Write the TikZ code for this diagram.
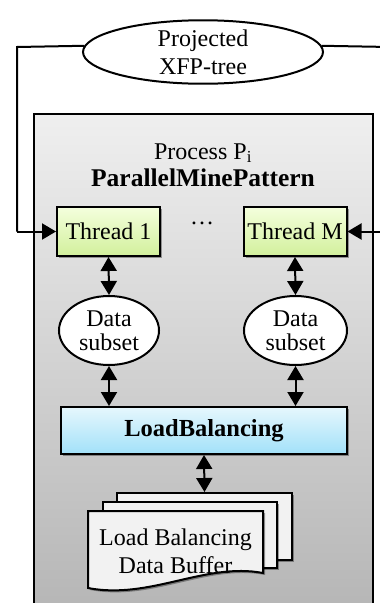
\documentclass[tikz,border=0pt]{standalone}
\usepackage{fontspec}
\setmainfont{Liberation Serif}
\usetikzlibrary{shapes.geometric,arrows.meta,shadows}

\definecolor{panelTop}{HTML}{EFEFEF}
\definecolor{panelBot}{HTML}{B4B4B4}
\definecolor{thrTop}{HTML}{F4FFDD}
\definecolor{thrBot}{HTML}{D2F09C}
\definecolor{lbTop}{HTML}{E6F7FD}
\definecolor{lbBot}{HTML}{A2E1F9}
\definecolor{docFill}{HTML}{F2F2F2}

\tikzset{
  txt/.style={font=\fontsize{24}{24}\selectfont, inner sep=0pt},
  softshadow/.style={drop shadow={shadow xshift=2pt, shadow yshift=-2pt, opacity=0.35, fill=black}},
  oval/.style={ellipse, draw=black, line width=2pt, fill=white, inner sep=0pt, align=center,
               font=\fontsize{24}{24}\selectfont},
  threadbox/.style={rectangle, draw=black, line width=2pt, top color=thrTop, bottom color=thrBot,
               minimum width=103pt, minimum height=49pt, inner sep=0pt, softshadow,
               font=\fontsize{24}{24}\selectfont},
  lbbox/.style={rectangle, draw=black, line width=2pt, top color=lbTop, bottom color=lbBot,
               minimum width=286pt, minimum height=47pt, inner sep=0pt, softshadow,
               font=\fontsize{24.5}{24}\selectfont\bfseries},
  sheet/.style={rectangle, draw=black, line width=2pt, fill=docFill, inner sep=0pt, softshadow},
  link/.style={line width=2pt},
  tri/.tip={Triangle[width=16pt,length=14pt]},
}

\begin{document}
\begin{tikzpicture}[x=1pt, y=-1pt]
  \useasboundingbox (0,0) rectangle (380,603);
  \clip (0,0) rectangle (380,603);

  % process panel (runs past the lower edge)
  \node[rectangle, draw=black, line width=2pt, top color=panelTop, bottom color=panelBot,
        minimum width=339pt, minimum height=512pt, inner sep=0pt, anchor=north west]
        (panel) at (33,113) {};

  % projected tree feeding the threads
  \node[oval, minimum width=240pt, minimum height=58pt, font=\fontsize{24}{28}\selectfont]
        (proj) at (203,52) {Projected\\XFP-tree};

  \node[txt, align=center, anchor=base] (ptitle) at (203,186)
        {Process P\textsubscript{i}\\[3pt]{\fontsize{25.5}{24}\selectfont\bfseries ParallelMinePattern}};

  % threads
  \node[threadbox] (t1) at (108.5,231.5) {Thread 1};
  \node[threadbox] (tM) at (295,231.5) {Thread M};
  \node[txt] (dots) at (202,223) {\dots};

  % data subsets
  \node[oval, minimum width=100pt, minimum height=69pt] (d1) at (109,330.5) {Data\\subset};
  \node[oval, minimum width=103pt, minimum height=69pt] (dM) at (295.5,330.5) {Data\\subset};

  % load balancing
  \node[lbbox] (lb) at (204,430.5) {LoadBalancing};

  % stacked buffer sheets
  \node[sheet, minimum width=175pt, minimum height=67pt] (sheetA) at (204.5,526.5) {};
  \node[sheet, minimum width=174pt, minimum height=66pt] (sheetB) at (190,535) {};
  \draw[line width=2pt, fill=docFill, softshadow]
    (88,511) -- (263,511) -- (263,573)
    .. controls (205,562) and (150,600) .. (88,588) -- cycle;
  \node[txt, align=center, font=\fontsize{24}{28}\selectfont] (buf) at (175.5,551) {Load Balancing\\Data Buffer};

  % connectors
  \coordinate (cornerL) at (17,47);
  \coordinate (edgeTop) at (390,47);
  \coordinate (edgeMid) at (390,231.5);
  \draw[link] (proj.177) -- (cornerL) -- (cornerL |- t1.west);
  \draw[link, -{tri}] (cornerL |- t1.west) -- (t1.west);
  \draw[link] (proj.3) -- (edgeTop);
  \draw[link, -{tri}] (edgeMid) -- (tM.east);

  \draw[link, {tri}-{tri}] (t1.south) -- (d1.north);
  \draw[link, {tri}-{tri}] (tM.south) -- (dM.north);
  \draw[link, {tri}-{tri}] (d1.south) -- (d1.south |- lb.north);
  \draw[link, {tri}-{tri}] (dM.south) -- (dM.south |- lb.north);
  \draw[link, {tri}-{tri}] (lb.south) -- (sheetA.north);
\end{tikzpicture}
\end{document}
